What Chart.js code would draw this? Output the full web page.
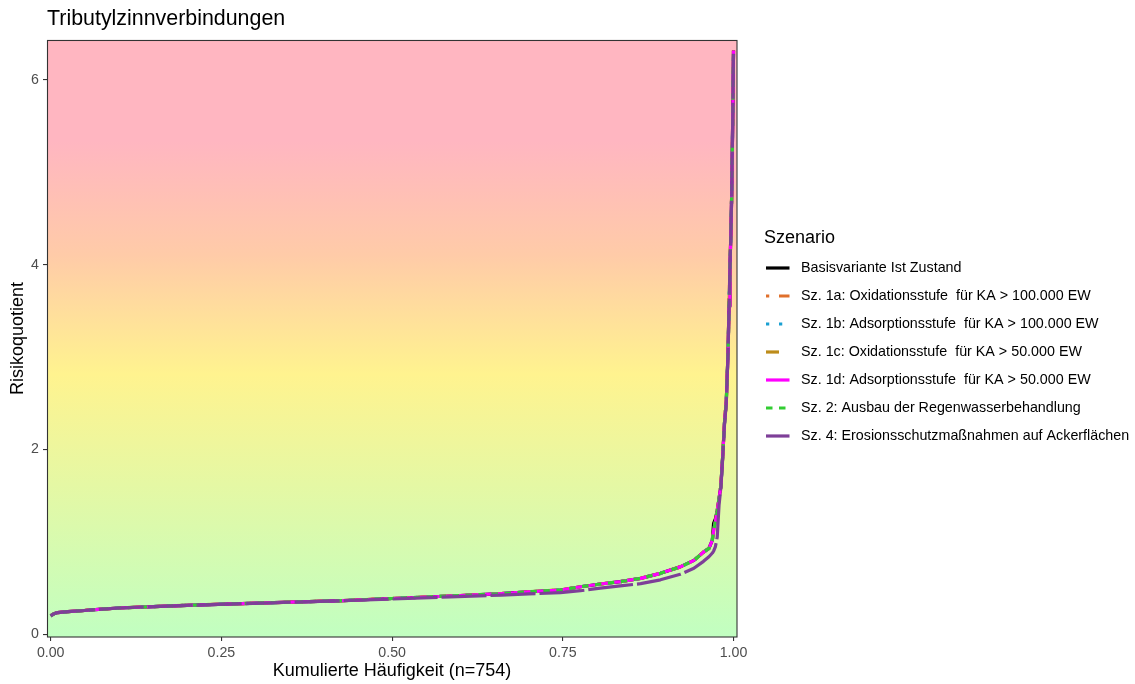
<!DOCTYPE html>
<html>
<head>
<meta charset="utf-8">
<script src="https://cdn.jsdelivr.net/npm/chart.js@4.4.1/dist/chart.umd.min.js"></script>
<style>
  html, body { margin: 0; padding: 0; background: #ffffff; }
  #wrap { position: relative; width: 1135px; height: 684px; }
</style>
</head>
<body>
<div id="wrap"><canvas id="c" width="1135" height="684"></canvas></div>
<script>
// ---- data ----
const chartTitle = 'Tributylzinnverbindungen';
const xTitle = 'Kumulierte Häufigkeit (n=754)';
const yTitle = 'Risikoquotient';
const legendTitle = 'Szenario';
const xTicks = [0, 0.25, 0.5, 0.75, 1];
const yTicks = [0, 2, 4, 6];

const seriesNames = [
  'Basisvariante Ist Zustand',
  'Sz. 1a: Oxidationsstufe  für KA > 100.000 EW',
  'Sz. 1b: Adsorptionsstufe  für KA > 100.000 EW',
  'Sz. 1c: Oxidationsstufe  für KA > 50.000 EW',
  'Sz. 1d: Adsorptionsstufe  für KA > 50.000 EW',
  'Sz. 2: Ausbau der Regenwasserbehandlung',
  'Sz. 4: Erosionsschutzmaßnahmen auf Ackerflächen'
];

// cumulative frequency positions
const cumFreq = [0, 0.004, 0.01, 0.025, 0.045, 0.07, 0.10, 0.14, 0.21, 0.28, 0.35, 0.42, 0.50,
  0.585, 0.66, 0.70, 0.7465, 0.776, 0.805, 0.834, 0.864, 0.893, 0.922, 0.942, 0.956, 0.964,
  0.969, 0.9708, 0.9735, 0.9761, 0.9788, 0.9814, 0.9841, 0.9867, 0.9894, 0.9920, 0.9934,
  0.9947, 0.9960, 0.9973, 0.9987, 1.0];

const basis = [0.20, 0.22, 0.235, 0.245, 0.255, 0.27, 0.285, 0.297, 0.317, 0.333, 0.348, 0.363, 0.388,
  0.415, 0.44, 0.46, 0.48, 0.515, 0.545, 0.57, 0.606, 0.66, 0.73, 0.80, 0.89, 0.93,
  1.02, 1.20, 1.25, 1.34, 1.47, 1.60, 1.92, 2.28, 2.52, 3.05, 3.55,
  3.95, 4.30, 4.75, 5.50, 6.32];
const sz1a = [0.20, 0.22, 0.235, 0.245, 0.255, 0.27, 0.285, 0.297, 0.317, 0.333, 0.348, 0.363, 0.388,
  0.415, 0.44, 0.46, 0.48, 0.515, 0.545, 0.57, 0.606, 0.66, 0.73, 0.80, 0.89, 0.93,
  1.02, 1.12, 1.22, 1.33, 1.47, 1.60, 1.92, 2.28, 2.52, 3.05, 3.55,
  3.95, 4.30, 4.75, 5.50, 6.32];
const sz1b = [0.20, 0.22, 0.235, 0.245, 0.255, 0.27, 0.285, 0.297, 0.317, 0.333, 0.348, 0.363, 0.388,
  0.415, 0.44, 0.46, 0.48, 0.515, 0.545, 0.57, 0.606, 0.66, 0.73, 0.80, 0.89, 0.93,
  1.02, 1.12, 1.22, 1.33, 1.47, 1.60, 1.92, 2.28, 2.52, 3.05, 3.55,
  3.95, 4.30, 4.75, 5.50, 6.32];
const sz1c = [0.20, 0.22, 0.235, 0.245, 0.255, 0.27, 0.285, 0.297, 0.317, 0.333, 0.348, 0.363, 0.388,
  0.415, 0.44, 0.46, 0.48, 0.515, 0.545, 0.57, 0.606, 0.66, 0.73, 0.80, 0.89, 0.93,
  1.02, 1.12, 1.22, 1.33, 1.47, 1.60, 1.92, 2.28, 2.52, 3.05, 3.55,
  3.95, 4.30, 4.75, 5.50, 6.32];
const sz1d = [0.20, 0.22, 0.235, 0.245, 0.255, 0.27, 0.285, 0.297, 0.317, 0.333, 0.348, 0.363, 0.388,
  0.415, 0.44, 0.46, 0.48, 0.515, 0.545, 0.57, 0.606, 0.66, 0.73, 0.80, 0.89, 0.93,
  1.02, 1.12, 1.22, 1.33, 1.47, 1.60, 1.92, 2.28, 2.52, 3.05, 3.55,
  3.95, 4.30, 4.75, 5.50, 6.32];
const sz2 = [0.20, 0.22, 0.235, 0.245, 0.255, 0.27, 0.285, 0.297, 0.317, 0.333, 0.348, 0.363, 0.388,
  0.415, 0.44, 0.46, 0.48, 0.515, 0.545, 0.57, 0.606, 0.66, 0.73, 0.80, 0.89, 0.93,
  1.02, 1.12, 1.22, 1.33, 1.47, 1.60, 1.92, 2.28, 2.52, 3.05, 3.55,
  3.95, 4.30, 4.75, 5.50, 6.32];
const sz4 = [0.20, 0.22, 0.235, 0.245, 0.255, 0.27, 0.285, 0.297, 0.316, 0.332, 0.347, 0.361, 0.382,
  0.405, 0.425, 0.437, 0.452, 0.472, 0.50, 0.525, 0.548, 0.59, 0.65, 0.715, 0.79, 0.84,
  0.88, 0.90, 0.95, 1.05, 1.40, 1.58, 1.90, 2.26, 2.50, 3.05, 3.55,
  3.95, 4.30, 4.75, 5.50, 6.32];

const seriesValues = [basis, sz1a, sz1b, sz1c, sz1d, sz2, sz4];

// ---- styles ----
const FONT = '"Liberation Sans", Arial, Helvetica, sans-serif';
const U = 3.25;
const styles = [
  { color: '#000000', dash: [] },
  { color: '#E0702C', dash: [U, 3 * U, 4 * U, 3 * U] },
  { color: '#1AA0D2', dash: [U, 3 * U] },
  { color: '#BD8C1A', dash: [4 * U, 4 * U] },
  { color: '#FF00FF', dash: [] },
  { color: '#32CD32', dash: [2 * U, 2 * U] },
  { color: '#7E3F98', dash: [45, 4] }
];
const LINE_W = 3.2;

const datasets = seriesNames.map((name, k) => ({
  label: name,
  data: cumFreq.map((x, i) => ({ x: x, y: seriesValues[k][i] })),
  borderColor: styles[k].color,
  backgroundColor: styles[k].color,
  borderDash: styles[k].dash,
  borderWidth: LINE_W,
  borderCapStyle: 'butt',
  borderJoinStyle: 'round',
  pointRadius: 0,
  pointHoverRadius: 0,
  tension: 0,
  fill: false,
  order: seriesNames.length - k
}));

// background gradient of the panel
const bgPlugin = {
  id: 'panelBg',
  beforeDatasetsDraw(chart) {
    const { ctx, chartArea: a } = chart;
    const g = ctx.createLinearGradient(0, a.top, 0, a.bottom);
    g.addColorStop(0, '#FFB6C1');
    g.addColorStop(0.17, '#FFB6C1');
    g.addColorStop(0.36, '#FFCBA8');
    g.addColorStop(0.56, '#FFF38F');
    g.addColorStop(1, '#C1FFC1');
    ctx.save();
    ctx.fillStyle = g;
    ctx.fillRect(a.left, a.top, a.right - a.left, a.bottom - a.top);
    ctx.restore();
  },
  afterDatasetsDraw(chart) {
    const { ctx, chartArea: a } = chart;
    ctx.save();
    ctx.strokeStyle = '#333333';
    ctx.lineWidth = 1.1;
    ctx.strokeRect(a.left + 0.5, a.top + 0.5, a.right - a.left - 0.5, a.bottom - a.top - 0.5);
    ctx.restore();
  }
};

// ggplot-style legend on the right
const legendPlugin = {
  id: 'ggLegend',
  afterDraw(chart) {
    const ctx = chart.ctx;
    ctx.save();
    ctx.fillStyle = '#000000';
    ctx.textAlign = 'left';
    ctx.textBaseline = 'middle';
    ctx.font = '18px ' + FONT;
    ctx.fillText(legendTitle, 764, 238);
    ctx.font = '14.3px ' + FONT;
    seriesNames.forEach((name, k) => {
      const y = 268 + k * 28;
      ctx.save();
      ctx.strokeStyle = styles[k].color;
      ctx.lineWidth = LINE_W;
      ctx.lineCap = 'butt';
      ctx.setLineDash(styles[k].dash);
      ctx.beginPath();
      ctx.moveTo(766, y);
      ctx.lineTo(789.5, y);
      ctx.stroke();
      ctx.restore();
      ctx.fillStyle = '#000000';
      ctx.fillText(name, 801, y + 0.5);
    });
    ctx.restore();
  }
};

new Chart(document.getElementById('c'), {
  type: 'line',
  data: { datasets: datasets },
  plugins: [bgPlugin, legendPlugin],
  options: {
    responsive: false,
    devicePixelRatio: 1,
    animation: false,
    events: [],
    layout: { padding: { left: 0, top: 0, right: 398, bottom: 0 } },
    plugins: {
      legend: { display: false },
      tooltip: { enabled: false },
      title: {
        display: true,
        text: chartTitle,
        align: 'start',
        fullSize: false,
        color: '#000000',
        font: { family: FONT, size: 21.4, weight: 'normal' },
        padding: { top: 6.7, bottom: 7.6 }
      }
    },
    scales: {
      x: {
        type: 'linear',
        min: -0.0054,
        max: 1.0051,
        afterFit(s) { s.height = 47; },
        afterBuildTicks(s) { s.ticks = xTicks.map(v => ({ value: v })); },
        ticks: {
          callback: v => v.toFixed(2),
          color: '#4D4D4D',
          font: { family: FONT, size: 14.2 },
          padding: 3.3,
          maxRotation: 0,
          autoSkip: false
        },
        grid: { drawOnChartArea: false, drawTicks: true, tickLength: 4, color: '#333333', lineWidth: 1.1 },
        border: { display: false },
        title: {
          display: true,
          text: xTitle,
          color: '#000000',
          font: { family: FONT, size: 18 },
          padding: { top: 0, bottom: 1.7 }
        }
      },
      y: {
        type: 'linear',
        min: -0.029,
        max: 6.433,
        afterFit(s) { s.width = 47; },
        afterBuildTicks(s) { s.ticks = yTicks.map(v => ({ value: v })); },
        ticks: {
          callback: v => String(v),
          color: '#4D4D4D',
          font: { family: FONT, size: 14.2 },
          padding: 4,
          autoSkip: false
        },
        grid: { drawOnChartArea: false, drawTicks: true, tickLength: 4, color: '#333333', lineWidth: 1.1 },
        border: { display: false },
        title: {
          display: true,
          text: yTitle,
          color: '#000000',
          font: { family: FONT, size: 18 },
          padding: { top: 7, bottom: 0 }
        }
      }
    }
  }
});
</script>
</body>
</html>
